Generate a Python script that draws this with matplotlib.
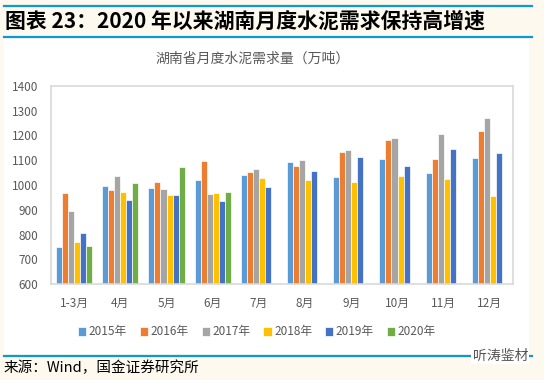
import numpy as np
import matplotlib
matplotlib.use("Agg")
import matplotlib.pyplot as plt
from matplotlib.patches import Rectangle
from matplotlib.lines import Line2D

plt.rcParams['font.family'] = ['Noto Sans CJK SC', 'DejaVu Sans']

months = ['1-3月', '4月', '5月', '6月', '7月', '8月', '9月', '10月', '11月', '12月']
years = ['2015年', '2016年', '2017年', '2018年', '2019年', '2020年']
nan = np.nan
v2015 = [750, 995, 986, 1022, 1041, 1094, 1033, 1107, 1050, 1109]
v2016 = [968, 978, 1013, 1096, 1054, 1077, 1135, 1183, 1107, 1220]
v2017 = [893, 1038, 982, 964, 1066, 1100, 1143, 1190, 1207, 1270]
v2018 = [768, 970, 958, 967, 1029, 1021, 1011, 1038, 1026, 956]
v2019 = [805, 938, 959, 934, 990, 1057, 1113, 1078, 1145, 1128]
v2020 = [753, 1009, 1074, 971, nan, nan, nan, nan, nan, nan]
series = [v2015, v2016, v2017, v2018, v2019, v2020]
colors = ['#5B9BD5', '#ED7D31', '#A5A5A5', '#FFC000', '#4472C4', '#70AD47']

W, H = 544, 380
fig = plt.figure(figsize=(W / 100, H / 100), dpi=100)
fig.patch.set_facecolor('#FEF9EE')

def fx(px):
    return px / W

def fy(py):
    return 1 - py / H

# white chart area
fig.patches.append(Rectangle((fx(4), fy(354)), fx(529) - fx(4), fy(39) - fy(354),
                             transform=fig.transFigure, facecolor='white',
                             edgecolor='none', zorder=-5))
# blue rules
for yy in [5.5, 37, 356]:
    fig.lines.append(Line2D([fx(4), fx(532)], [fy(yy), fy(yy)], transform=fig.transFigure,
                            color='#0A9BD7', lw=1.6, zorder=1))

fig.text(fx(5), fy(21), '图表 23：2020 年以来湖南月度水泥需求保持高增速',
         fontsize=15, fontweight='bold', color='black', ha='left', va='center')
fig.text(fx(253), fy(59), '湖南省月度水泥需求量（万吨）', fontsize=10, color='#595959',
         ha='center', va='center')
fig.text(fx(4), fy(368), '来源：Wind，国金证券研究所', fontsize=10.5, color='black',
         ha='left', va='center')
fig.text(fx(528), fy(356), '听涛鉴材', fontsize=10, color='#555555', ha='right', va='center',
         bbox=dict(facecolor='white', edgecolor='none', pad=1), zorder=3)

ax = fig.add_axes([fx(51), fy(284), fx(513) - fx(51), fy(86) - fy(284)])
ax.set_facecolor('white')
x = np.arange(len(months))
bw = 0.13
for i, (vals, c, lab) in enumerate(zip(series, colors, years)):
    ax.bar(x + (i - 2.5) * bw, vals, width=bw, color=c, edgecolor='white', linewidth=0.5,
           label=lab, zorder=2)

ax.set_xlim(-0.5, len(months) - 0.5)
ax.set_ylim(600, 1400)
ax.set_yticks(np.arange(600, 1401, 100))
ax.set_xticks(x)
ax.set_xticklabels(months)
ax.tick_params(length=0, labelsize=8.5, colors='#595959')
ax.tick_params(axis='y', pad=9)
ax.tick_params(axis='x', pad=9)
for s in ax.spines.values():
    s.set_color('#D9D9D9')
    s.set_linewidth(1.2)

ax.legend(loc='center', bbox_to_anchor=(fx(257), fy(332)), bbox_transform=fig.transFigure,
          ncol=6, frameon=False, fontsize=8.5, labelcolor='#595959', handlelength=0.7,
          handleheight=0.7, handletextpad=0.2, columnspacing=1.1)

fig.savefig('out.png', dpi=100, facecolor=fig.get_facecolor())
